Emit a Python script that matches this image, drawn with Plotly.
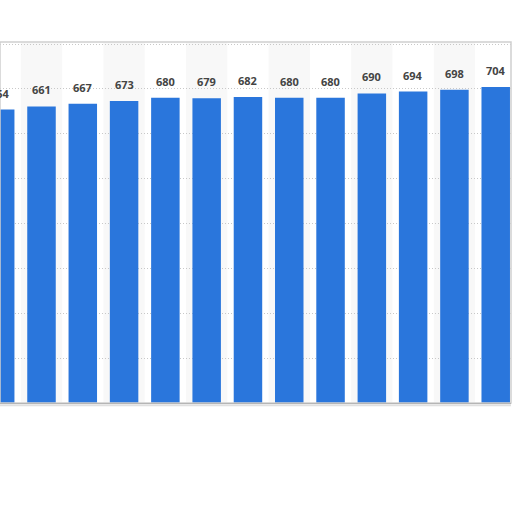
import plotly.graph_objects as go

values = [654, 661, 667, 673, 680, 679, 682, 680, 680, 690, 694, 698, 704]
labels = [str(v) for v in values]
idx = list(range(len(values)))

BAR = "#2a76dc"

fig = go.Figure()
fig.add_trace(go.Bar(
    x=idx, y=values,
    marker=dict(color=BAR, line=dict(width=0)),
    width=0.69, hoverinfo="skip",
))

annotations = [
    dict(x=i, y=v, text=t, showarrow=False, xref="x", yref="y", yanchor="bottom",
         yshift=7, font=dict(family="Open Sans, Arial, sans-serif", size=11,
                             color="#444444", weight="bold"))
    for i, v, t in zip(idx, values, labels)
]

shapes = []
for i in idx:
    if i % 2 == 1:
        shapes.append(dict(type="rect", xref="x", yref="paper", x0=i - 0.5, x1=i + 0.5,
                           y0=0, y1=1, fillcolor="#f8f8f8", line=dict(width=0), layer="below"))
shapes.append(dict(type="rect", xref="paper", yref="paper", x0=0, x1=1, y0=0, y1=1,
                   line=dict(color="#cfcfcf", width=1.5), layer="above"))
shapes.append(dict(type="line", xref="paper", yref="paper", x0=0, x1=1, y0=-0.006, y1=-0.006,
                   line=dict(color="#e0e0e0", width=2), layer="above"))

fig.update_layout(
    width=512, height=512,
    margin=dict(l=0, r=1, t=42, b=109),
    paper_bgcolor="white", plot_bgcolor="white",
    showlegend=False, shapes=shapes, annotations=annotations, bargap=0.31,
    xaxis=dict(range=[-0.005, 12.37], showticklabels=False, showgrid=False, zeroline=False,
               showline=True, linecolor="#666666", linewidth=1, ticks=""),
    yaxis=dict(range=[0, 804.5], dtick=100, showticklabels=False, showgrid=True,
               gridcolor="#c8c8c8", griddash="1px,2px", gridwidth=1, zeroline=False, ticks=""),
)
fig.write_html("out.html", config={"displayModeBar": False},
               post_script="document.body.style.margin='0';document.body.style.overflow='hidden';")
